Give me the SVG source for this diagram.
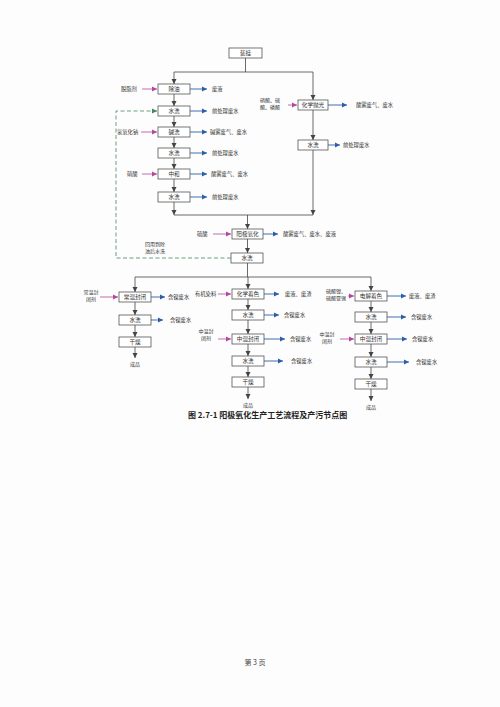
<svg xmlns="http://www.w3.org/2000/svg" width="500" height="707" viewBox="0 0 500 707">
<style>
.bg{fill:#fdfdfd}
.box{fill:#fff;stroke:#555;stroke-width:0.8}
text{font-family:"Noto Sans CJK SC","Noto Sans CJK JP",sans-serif;fill:#333}
.bt{font-size:5.6px;text-anchor:middle}
.lb{font-size:5.3px}
.lm{font-size:5px;text-anchor:middle}
.ln{stroke:#444;stroke-width:0.8;fill:none}
.mg{stroke:#b5479f;stroke-width:0.8;fill:none}
.bl{stroke:#2d5ea9;stroke-width:0.9;fill:none}
.gd{stroke:#3f8a5c;stroke-width:0.8;fill:none;stroke-dasharray:4 2.5}
.cap{font-size:8px;font-weight:bold;fill:#222}
.ft{font-size:7px;text-anchor:middle;fill:#444}
</style>
<defs>
<marker id="ak" markerWidth="6" markerHeight="6" refX="5" refY="3" orient="auto" markerUnits="userSpaceOnUse"><path d="M0,0.5 L5,3 L0,5.5 Z" fill="#444"/></marker>
<marker id="am" markerWidth="6" markerHeight="6" refX="5" refY="3" orient="auto" markerUnits="userSpaceOnUse"><path d="M0,0.5 L5,3 L0,5.5 Z" fill="#b5479f"/></marker>
<marker id="ab" markerWidth="6" markerHeight="6" refX="5" refY="3" orient="auto" markerUnits="userSpaceOnUse"><path d="M0,0.5 L5,3 L0,5.5 Z" fill="#2d5ea9"/></marker>
<marker id="ag" markerWidth="6" markerHeight="6" refX="5" refY="3" orient="auto" markerUnits="userSpaceOnUse"><path d="M0,0.5 L5,3 L0,5.5 Z" fill="#3f8a5c"/></marker>
</defs>
<rect class="bg" x="0" y="0" width="500" height="707"/>

<g id="connectors">
<path class="ln" d="M245.5,58 V72 M174,72 H313" />
<path class="ln" d="M174,72 V84" marker-end="url(#ak)"/>
<path class="ln" d="M313,72 V100" marker-end="url(#ak)"/>
<path class="ln" d="M174,94 V106" marker-end="url(#ak)"/>
<path class="ln" d="M174,116 V127" marker-end="url(#ak)"/>
<path class="ln" d="M174,137 V148" marker-end="url(#ak)"/>
<path class="ln" d="M174,158 V169" marker-end="url(#ak)"/>
<path class="ln" d="M174,179 V192" marker-end="url(#ak)"/>
<path class="ln" d="M174,202 V215" marker-end="url(#ak)"/>
<path class="ln" d="M313,110 V140" marker-end="url(#ak)"/>
<path class="ln" d="M313,150 V215" marker-end="url(#ak)"/>
<path class="ln" d="M174,215 H313"/>
<path class="ln" d="M247.5,215 V229" marker-end="url(#ak)"/>
<path class="ln" d="M247.5,239 V253" marker-end="url(#ak)"/>
<path class="ln" d="M247.5,263 V277 M135,277 H371"/>
<path class="ln" d="M135,277 V292" marker-end="url(#ak)"/>
<path class="ln" d="M135,302 V315" marker-end="url(#ak)"/>
<path class="ln" d="M135,325 V337" marker-end="url(#ak)"/>
<path class="ln" d="M135,347 V358" marker-end="url(#ak)"/>
<path class="ln" d="M248,277 V289" marker-end="url(#ak)"/>
<path class="ln" d="M248,299 V310" marker-end="url(#ak)"/>
<path class="ln" d="M248,320 V334" marker-end="url(#ak)"/>
<path class="ln" d="M248,344 V356" marker-end="url(#ak)"/>
<path class="ln" d="M248,366 V377" marker-end="url(#ak)"/>
<path class="ln" d="M248,387 V399" marker-end="url(#ak)"/>
<path class="ln" d="M371,277 V291" marker-end="url(#ak)"/>
<path class="ln" d="M371,301 V312" marker-end="url(#ak)"/>
<path class="ln" d="M371,322 V334" marker-end="url(#ak)"/>
<path class="ln" d="M371,344 V357" marker-end="url(#ak)"/>
<path class="ln" d="M371,367 V379" marker-end="url(#ak)"/>
<path class="ln" d="M371,389 V401" marker-end="url(#ak)"/>

<path class="mg" d="M142,89 H157" marker-end="url(#am)"/>
<path class="mg" d="M141,132 H157" marker-end="url(#am)"/>
<path class="mg" d="M142,174 H157" marker-end="url(#am)"/>
<path class="mg" d="M288,105 H297" marker-end="url(#am)"/>
<path class="mg" d="M213,234 H231" marker-end="url(#am)"/>
<path class="mg" d="M100,297 H118" marker-end="url(#am)"/>
<path class="mg" d="M218,294 H231" marker-end="url(#am)"/>
<path class="mg" d="M218,339 H231" marker-end="url(#am)"/>
<path class="mg" d="M348,296 H354" marker-end="url(#am)"/>
<path class="mg" d="M340,339 H354" marker-end="url(#am)"/>

<path class="bl" d="M190,89 H207" marker-end="url(#ab)"/>
<path class="bl" d="M190,111 H207" marker-end="url(#ab)"/>
<path class="bl" d="M190,132 H207" marker-end="url(#ab)"/>
<path class="bl" d="M190,153 H207" marker-end="url(#ab)"/>
<path class="bl" d="M190,174 H207" marker-end="url(#ab)"/>
<path class="bl" d="M190,197 H207" marker-end="url(#ab)"/>
<path class="bl" d="M328,105 H347" marker-end="url(#ab)"/>
<path class="bl" d="M328,145 H340" marker-end="url(#ab)"/>
<path class="bl" d="M263,234 H278" marker-end="url(#ab)"/>
<path class="bl" d="M151,297 H165" marker-end="url(#ab)"/>
<path class="bl" d="M151,320 H163" marker-end="url(#ab)"/>
<path class="bl" d="M264,294 H279" marker-end="url(#ab)"/>
<path class="bl" d="M264,315 H279" marker-end="url(#ab)"/>
<path class="bl" d="M264,339 H285" marker-end="url(#ab)"/>
<path class="bl" d="M264,361 H283" marker-end="url(#ab)"/>
<path class="bl" d="M387,296 H406" marker-end="url(#ab)"/>
<path class="bl" d="M387,317 H406" marker-end="url(#ab)"/>
<path class="bl" d="M387,339 H407" marker-end="url(#ab)"/>
<path class="bl" d="M387,362 H409" marker-end="url(#ab)"/>

<path class="gd" d="M231,258 H116 V111 H157" marker-end="url(#ag)"/>
</g>

<g id="n-zhuanggua"><rect class="box" x="229" y="48" width="33" height="10"/><text class="bt" x="245.5" y="55">装挂</text></g>

<g id="n-chuyou"><rect class="box" x="158" y="84" width="32" height="10"/><text class="bt" x="174" y="91">除油</text></g>
<g id="n-shuixi1"><rect class="box" x="158" y="106" width="32" height="10"/><text class="bt" x="174" y="113">水洗</text></g>
<g id="n-jianxi"><rect class="box" x="158" y="127" width="32" height="10"/><text class="bt" x="174" y="134">碱洗</text></g>
<g id="n-shuixi2"><rect class="box" x="158" y="148" width="32" height="10"/><text class="bt" x="174" y="155">水洗</text></g>
<g id="n-zhonghe"><rect class="box" x="158" y="169" width="32" height="10"/><text class="bt" x="174" y="176">中和</text></g>
<g id="n-shuixi3"><rect class="box" x="158" y="192" width="32" height="10"/><text class="bt" x="174" y="199">水洗</text></g>

<g id="n-huaxuepaoguang"><rect class="box" x="298" y="100" width="30" height="10"/><text class="bt" x="313" y="107">化学抛光</text></g>
<g id="n-shuixi4"><rect class="box" x="298" y="140" width="30" height="10"/><text class="bt" x="313" y="147">水洗</text></g>

<g id="n-yangjiyanghua"><rect class="box" x="232" y="229" width="31" height="10"/><text class="bt" x="247.5" y="236">阳极氧化</text></g>
<g id="n-shuixi5"><rect class="box" x="231" y="253" width="32" height="10"/><text class="bt" x="247" y="260">水洗</text></g>

<g id="n-changwenfengbi"><rect class="box" x="119" y="292" width="32" height="10"/><text class="bt" x="135" y="299">常温封闭</text></g>
<g id="n-shuixi6"><rect class="box" x="119" y="315" width="32" height="10"/><text class="bt" x="135" y="322">水洗</text></g>
<g id="n-ganzao1"><rect class="box" x="119" y="337" width="32" height="10"/><text class="bt" x="135" y="344">干燥</text></g>

<g id="n-huaxuezhuose"><rect class="box" x="232" y="289" width="32" height="10"/><text class="bt" x="248" y="296">化学着色</text></g>
<g id="n-shuixi7"><rect class="box" x="232" y="310" width="32" height="10"/><text class="bt" x="248" y="317">水洗</text></g>
<g id="n-zhongwenfengbi1"><rect class="box" x="232" y="334" width="32" height="10"/><text class="bt" x="248" y="341">中温封闭</text></g>
<g id="n-shuixi8"><rect class="box" x="232" y="356" width="32" height="10"/><text class="bt" x="248" y="363">水洗</text></g>
<g id="n-ganzao2"><rect class="box" x="232" y="377" width="32" height="10"/><text class="bt" x="248" y="384">干燥</text></g>

<g id="n-dianjiezhuose"><rect class="box" x="355" y="291" width="32" height="10"/><text class="bt" x="371" y="298">电解着色</text></g>
<g id="n-shuixi9"><rect class="box" x="355" y="312" width="32" height="10"/><text class="bt" x="371" y="319">水洗</text></g>
<g id="n-zhongwenfengbi2"><rect class="box" x="355" y="334" width="32" height="10"/><text class="bt" x="371" y="341">中温封闭</text></g>
<g id="n-shuixi10"><rect class="box" x="355" y="357" width="32" height="10"/><text class="bt" x="371" y="364">水洗</text></g>
<g id="n-ganzao3"><rect class="box" x="355" y="379" width="32" height="10"/><text class="bt" x="371" y="386">干燥</text></g>

<g id="labels">
<text class="lb" x="121" y="91">脱脂剂</text>
<text class="lb" x="117" y="134">氢氧化钠</text>
<text class="lb" x="127" y="176">硝酸</text>
<text class="lb" x="212" y="91">废液</text>
<text class="lb" x="212" y="113">前处理废水</text>
<text class="lb" x="210" y="134">碱雾废气、废水</text>
<text class="lb" x="212" y="155">前处理废水</text>
<text class="lb" x="211" y="176">酸雾废气、废水</text>
<text class="lb" x="212" y="199">前处理废水</text>
<text class="lm" x="270" y="102">硝酸、硫</text>
<text class="lm" x="270" y="109">酸、磷酸</text>
<text class="lb" x="356" y="107">酸雾废气、废水</text>
<text class="lb" x="343" y="147">前处理废水</text>
<text class="lb" x="197" y="236">硫酸</text>
<text class="lb" x="283" y="236">酸雾废气、废水、废液</text>
<text class="lm" x="155" y="246">回用到除</text>
<text class="lm" x="155" y="253">油后水洗</text>
<text class="lm" x="91" y="294">常温封</text>
<text class="lm" x="91" y="301">闭剂</text>
<text class="lb" x="168" y="299">含镍废水</text>
<text class="lb" x="170" y="322">含镍废水</text>
<text class="lm" x="135" y="366">成品</text>
<text class="lb" x="195" y="296">有机染料</text>
<text class="lb" x="285" y="296">废液、废渣</text>
<text class="lb" x="284" y="317">含镍废水</text>
<text class="lm" x="206" y="333">中温封</text>
<text class="lm" x="206" y="340">闭剂</text>
<text class="lb" x="290" y="341">含镍废水</text>
<text class="lb" x="291" y="363">含镍废水</text>
<text class="lm" x="248" y="407">成品</text>
<text class="lm" x="336" y="293">硫酸镍、</text>
<text class="lm" x="336" y="300">硫酸亚锡</text>
<text class="lb" x="409" y="298">废液、废渣</text>
<text class="lb" x="411" y="319">含镍废水</text>
<text class="lm" x="327" y="336">中温封</text>
<text class="lm" x="327" y="343">闭剂</text>
<text class="lb" x="412" y="341">含镍废水</text>
<text class="lb" x="416" y="364">含镍废水</text>
<text class="lm" x="371" y="409">成品</text>
<text class="cap" x="188" y="418">图 2.7-1  阳极氧化生产工艺流程及产污节点图</text>
<text class="ft" x="255" y="665">第 3 页</text>
</g>
</svg>
